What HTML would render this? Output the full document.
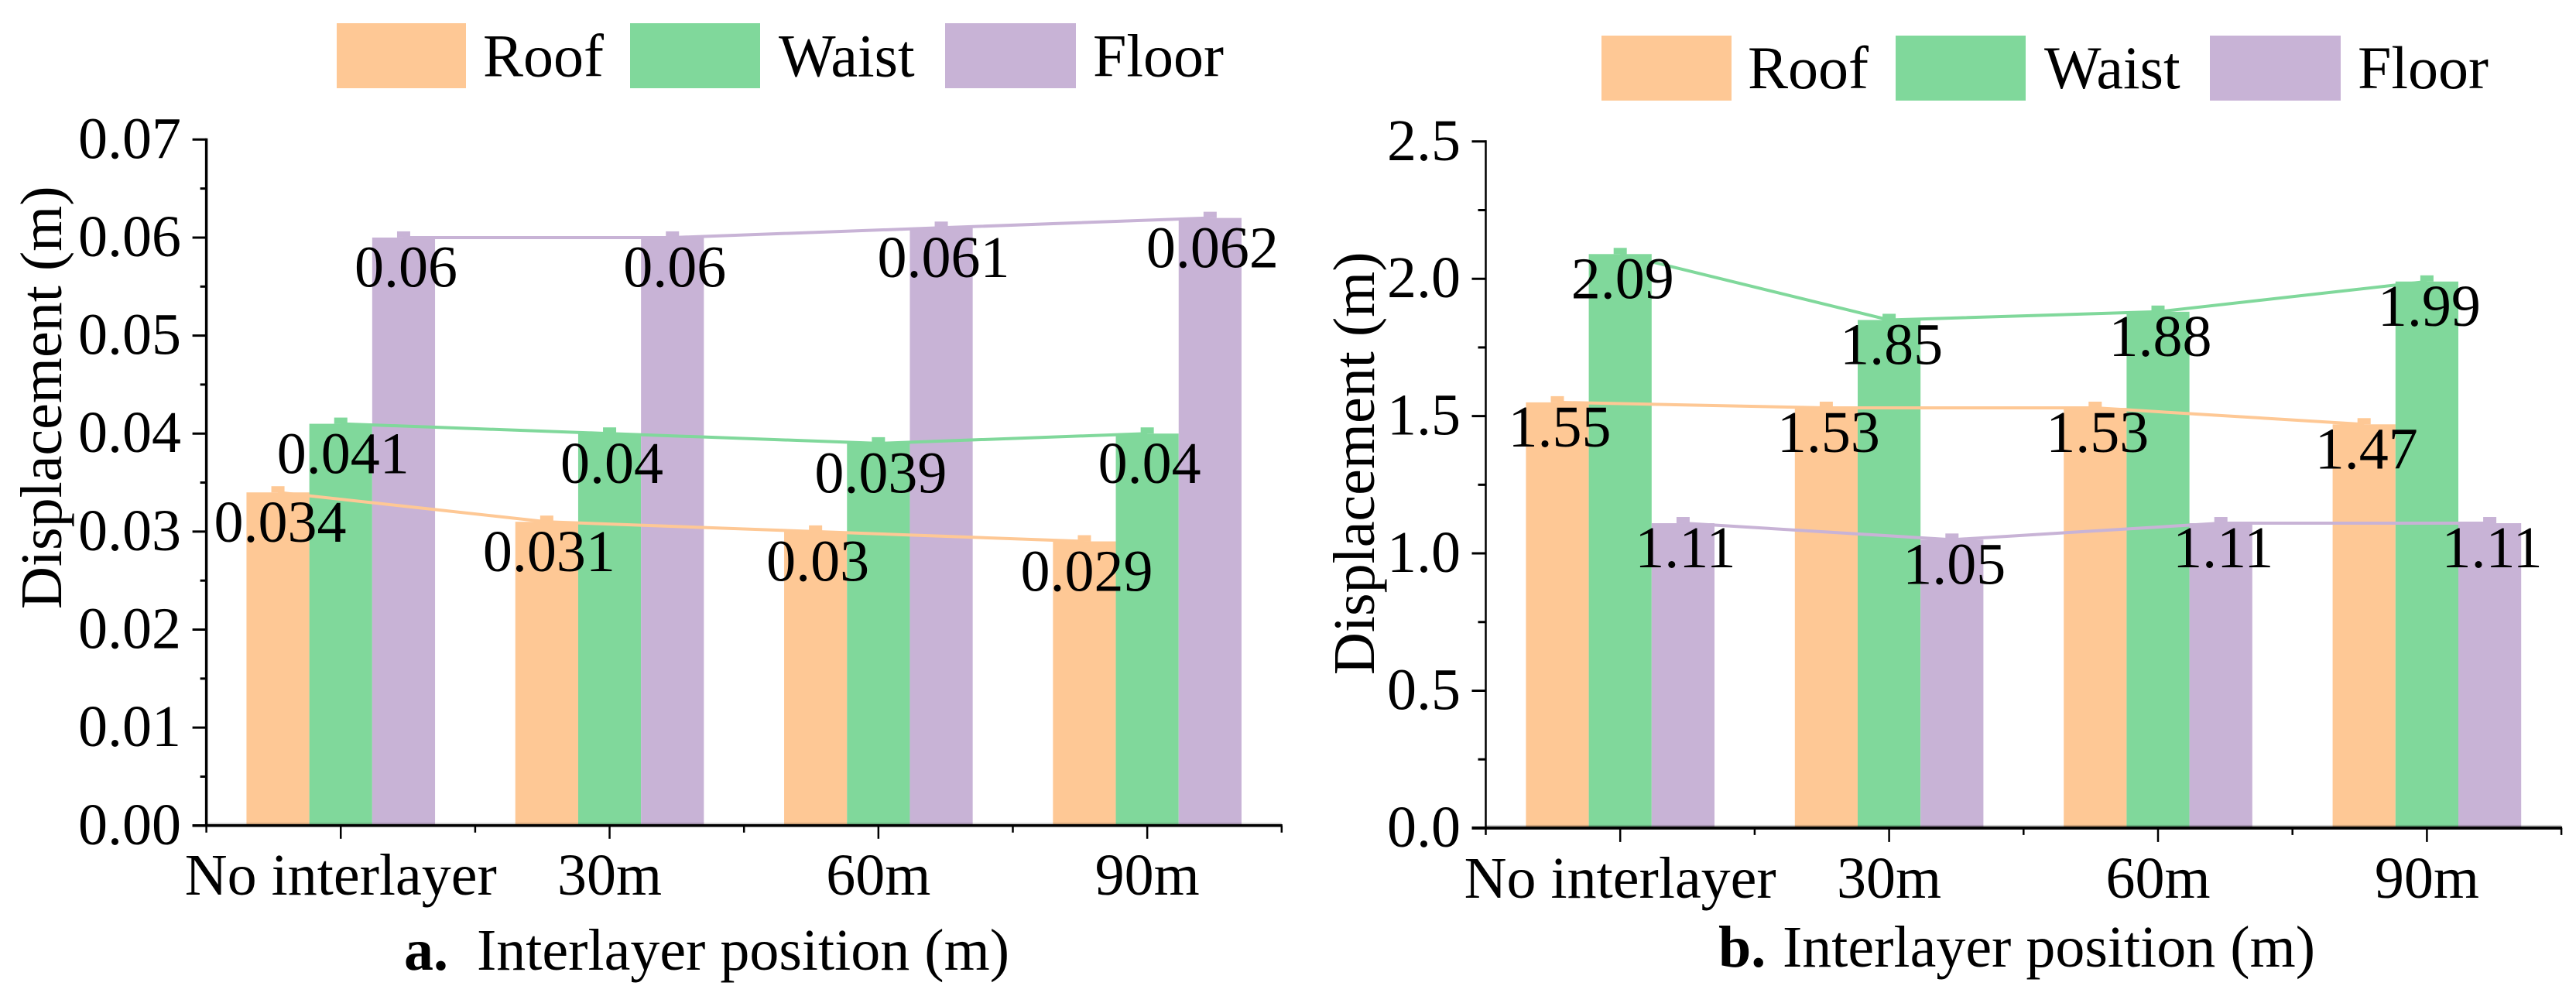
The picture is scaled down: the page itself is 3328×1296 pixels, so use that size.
<!DOCTYPE html>
<html lang="en">
<head>
<meta charset="utf-8">
<title>Displacement by interlayer position</title>
<style>
html,body{margin:0;padding:0;background:#fff;width:3328px;height:1296px;overflow:hidden}
svg{display:block}
text{font-family:"Liberation Serif","Times New Roman",serif;fill:#000;font-size:76px}
.legend{font-size:78px}
</style>
</head>
<body>
<svg id="figure" xmlns="http://www.w3.org/2000/svg" width="3328" height="1296" viewBox="0 0 3328 1296">
  <rect x="0" y="0" width="3328" height="1296" fill="#ffffff"/>

  <g id="panel-a"></g>
  <g id="panel-b"></g>

  <g>
    <rect x="435" y="30" width="167" height="84" fill="#fec895"/>
    <text class="legend" x="624" y="98.5">Roof</text>
    <rect x="814" y="30" width="168" height="84" fill="#80d89b"/>
    <text class="legend" x="1006" y="98.5">Waist</text>
    <rect x="1221" y="30" width="169" height="84" fill="#c8b3d6"/>
    <text class="legend" x="1412" y="98.5">Floor</text>
  </g>
  <g>
    <rect x="2069" y="46" width="168" height="84" fill="#fec895"/>
    <text class="legend" x="2258" y="114">Roof</text>
    <rect x="2449" y="46" width="168" height="84" fill="#80d89b"/>
    <text class="legend" x="2641" y="114">Waist</text>
    <rect x="2855" y="46" width="169" height="84" fill="#c8b3d6"/>
    <text class="legend" x="3046" y="114">Floor</text>
  </g>

  <text transform="translate(79 787) rotate(-90)">Displacement (m)</text>
  <text transform="translate(1775 872) rotate(-90)">Displacement (m)</text>

  <text x="522" y="1253" font-weight="bold">a.</text>
  <text x="616" y="1253">Interlayer position (m)</text>
  <text x="2220" y="1249" font-weight="bold">b.</text>
  <text x="2303" y="1249">Interlayer position (m)</text>
</svg>

<script>
const categories = ["No interlayer", "30m", "60m", "90m"];
const seriesNames = ["Roof", "Waist", "Floor"];

const roofA = [0.034, 0.031, 0.03, 0.029];
const waistA = [0.041, 0.04, 0.039, 0.04];
const floorA = [0.06, 0.06, 0.061, 0.062];

const roofB = [1.55, 1.53, 1.53, 1.47];
const waistB = [2.09, 1.85, 1.88, 1.99];
const floorB = [1.11, 1.05, 1.11, 1.11];

const yTickLabelsA = ["0.00", "0.01", "0.02", "0.03", "0.04", "0.05", "0.06", "0.07"];
const yTickLabelsB = ["0.0", "0.5", "1.0", "1.5", "2.0", "2.5"];

const NS = "http://www.w3.org/2000/svg";
const seriesColors = ["#fec895", "#80d89b", "#c8b3d6"];

function make(parent, tag, attrs, content) {
  const el = document.createElementNS(NS, tag);
  for (const k in attrs) el.setAttribute(k, attrs[k]);
  if (content !== undefined) el.textContent = content;
  parent.appendChild(el);
  return el;
}

function drawPanel(root, key, series, yLabels, frame) {
  const yMin = parseFloat(yLabels[0]);
  const yMax = parseFloat(yLabels[yLabels.length - 1]);
  const yScale = v => frame.yZero + (v - yMin) / (yMax - yMin) * (frame.yTop - frame.yZero);
  const xBand = i => frame.xLeft + (i + 0.5) * frame.step;
  const barCenter = (i, s) => xBand(i) + (s - 1) * frame.barWidth;
  const xRight = frame.xLeft + categories.length * frame.step;

  series.forEach((vals, s) => {
    vals.forEach((v, i) => {
      const top = yScale(v);
      const bar = make(root, "rect", {
        x: barCenter(i, s) - frame.barWidth / 2,
        y: top,
        width: frame.barWidth,
        height: frame.yZero - top,
        fill: seriesColors[s]
      });
      
      
      const tip = make(root, "rect", {
        x: barCenter(i, s) - 8.5,
        y: top - 8,
        width: 17,
        height: 8,
        fill: seriesColors[s]
      });
      
      
    });
  });

  series.forEach((vals, s) => {
    const pts = vals.map((v, i) => barCenter(i, s) + "," + yScale(v)).join(" ");
    const line = make(root, "polyline", {
      points: pts,
      fill: "none",
      stroke: seriesColors[s],
      "stroke-width": 4
    });
    
    
  });

  const halo = make(root, "line", {
    x1: frame.xLeft, x2: xRight, y1: frame.yZero - frame.xAxisWidth / 2 - 1, y2: frame.yZero - frame.xAxisWidth / 2 - 1,
    stroke: "#000", "stroke-opacity": 0.18, "stroke-width": 2
  });
  
  

  const yAxis = make(root, "line", {
    x1: frame.xLeft, x2: frame.xLeft, y1: yScale(yMax) - 1.5, y2: frame.yZero,
    stroke: "#000", "stroke-width": frame.yAxisWidth
  });
  
  

  const xAxis = make(root, "line", {
    x1: frame.xLeft - 18, x2: xRight + 1, y1: frame.yZero, y2: frame.yZero,
    stroke: "#000", "stroke-width": frame.xAxisWidth
  });
  
  

  yLabels.forEach((label, i) => {
    const v = parseFloat(label);
    const y = yScale(v);
    const tick = make(root, "line", {
      x1: frame.xLeft - 18, x2: frame.xLeft, y1: y, y2: y,
      stroke: "#000", "stroke-width": 3
    });
    
    
    const txt = make(root, "text", {
      x: frame.yLabelRight, y: y + 24, "text-anchor": "end"
    }, label);
    
    
    if (i < yLabels.length - 1) {
      const mid = yScale((v + parseFloat(yLabels[i + 1])) / 2);
      const minor = make(root, "line", {
        x1: frame.xLeft - frame.minorLen, x2: frame.xLeft, y1: mid, y2: mid,
        stroke: "#000", "stroke-width": 3
      });
      
      
    }
  });

  categories.forEach((c, i) => {
    const x = xBand(i);
    const tick = make(root, "line", {
      x1: x, x2: x, y1: frame.yZero, y2: frame.yZero + frame.xTickLen,
      stroke: "#000", "stroke-width": 2.5
    });
    
    
    const txt = make(root, "text", {
      x: x, y: frame.xLabelBase, "text-anchor": "middle"
    }, c);
    
    
  });
  for (let i = 0; i <= categories.length; i++) {
    const x = frame.xLeft + i * frame.step;
    const minor = make(root, "line", {
      x1: x, x2: x, y1: frame.yZero, y2: frame.yZero + 9,
      stroke: "#000", "stroke-width": 2.5
    });
    
    
  }

  series.forEach((vals, s) => {
    vals.forEach((v, i) => {
      const txt = make(root, "text", {
        x: barCenter(i, s) + 3,
        y: yScale(v) + frame.labelDrop,
        "text-anchor": "middle"
      }, String(v));
      
      
    });
  });
}

drawPanel(document.getElementById("panel-a"), "a", [roofA, waistA, floorA], yTickLabelsA, {
  xLeft: 266.6, step: 347.3, barWidth: 81.2,
  yZero: 1066.8, yTop: 180.3,
  yAxisWidth: 3.5, xAxisWidth: 3.5, minorLen: 8, xTickLen: 17,
  yLabelRight: 234, xLabelBase: 1156, labelDrop: 63.8
});

drawPanel(document.getElementById("panel-b"), "b", [roofB, waistB, floorB], yTickLabelsB, {
  xLeft: 1919.5, step: 347.4, barWidth: 81.2,
  yZero: 1069.9, yTop: 182.8,
  yAxisWidth: 2.5, xAxisWidth: 4, minorLen: 10, xTickLen: 18,
  yLabelRight: 1887, xLabelBase: 1160, labelDrop: 57
});
</script>
</body>
</html>
